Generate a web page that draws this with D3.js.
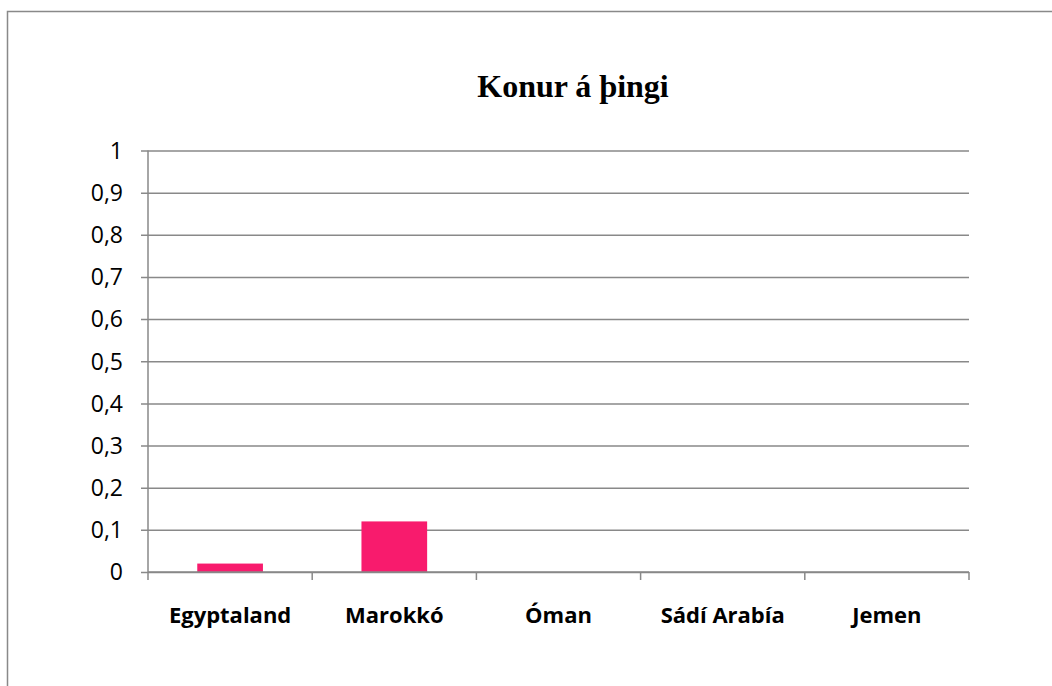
<!DOCTYPE html>
<html>
<head>
<meta charset="utf-8">
<script src="https://cdn.jsdelivr.net/npm/d3@7"></script>
<style>
  html, body { margin: 0; padding: 0; background: #fff; }
  svg { display: block; }
</style>
</head>
<body>
<svg id="chart" width="1052" height="686"></svg>
<script>
const title = "Konur á þingi";
const categories = ["Egyptaland", "Marokkó", "Óman", "Sádí Arabía", "Jemen"];
const values = [0.02, 0.12, 0, 0, 0];
const yTicks = [0, 0.1, 0.2, 0.3, 0.4, 0.5, 0.6, 0.7, 0.8, 0.9, 1];

const svg = d3.select("#chart");
const gridColor = "#898989";
const barColor = "#F81B6D";
const fmt = d => d3.format("")(d).replace(".", ",");

// outer chart border (extends past the viewport at right/bottom)
svg.append("rect")
  .attr("x", 7.5).attr("y", 11.5)
  .attr("width", 1200).attr("height", 800)
  .attr("fill", "none").attr("stroke", gridColor).attr("stroke-width", 1.5);

const x = d3.scaleBand().domain(categories).range([148, 969]).paddingInner(0.6).paddingOuter(0.3);
const y = d3.scaleLinear().domain([0, 1]).range([572, 150.5]);

// title
svg.append("text")
  .attr("x", 573).attr("y", 97)
  .attr("text-anchor", "middle")
  .attr("font-family", "'Liberation Serif', 'Times New Roman', serif")
  .attr("font-weight", "bold")
  .attr("font-size", 32)
  .attr("fill", "#000")
  .text(title);

// gridlines (with short outside tick) via d3.axisRight
const yAxis = d3.axisRight(y)
  .tickValues(yTicks)
  .tickSize(969 - 141)
  .tickFormat(() => "");
const gy = svg.append("g").attr("transform", "translate(141,0)").call(yAxis);
gy.select(".domain").remove();
gy.selectAll(".tick line").attr("stroke", gridColor).attr("stroke-width", 1.5);

// y labels
svg.append("g").selectAll("text").data(yTicks).join("text")
  .attr("x", 123)
  .attr("y", d => y(d))
  .attr("dy", "0.36em")
  .attr("text-anchor", "end")
  .attr("font-family", "'Open Sans', sans-serif")
  .attr("font-size", 23)
  .attr("fill", "#000")
  .text(fmt);

// y axis line
svg.append("line")
  .attr("x1", 148).attr("x2", 148).attr("y1", y(1)).attr("y2", y(0))
  .attr("stroke", gridColor).attr("stroke-width", 1.5);

// bars
svg.append("g").selectAll("rect").data(values).join("rect")
  .attr("x", (d, i) => x(categories[i]))
  .attr("width", x.bandwidth())
  .attr("y", d => y(d))
  .attr("height", d => y(0) - y(d))
  .attr("fill", barColor);

// x axis line and boundary ticks
svg.append("line")
  .attr("x1", 148).attr("x2", 969).attr("y1", y(0)).attr("y2", y(0))
  .attr("stroke", gridColor).attr("stroke-width", 1.5);
const bounds = d3.range(categories.length + 1).map(i => 148 + i * (969 - 148) / categories.length);
svg.append("g").selectAll("line").data(bounds).join("line")
  .attr("x1", d => d).attr("x2", d => d)
  .attr("y1", y(0)).attr("y2", y(0) + 8)
  .attr("stroke", gridColor).attr("stroke-width", 1.5);

// category labels
svg.append("g").selectAll("text").data(categories).join("text")
  .attr("x", d => x(d) + x.bandwidth() / 2)
  .attr("y", 623)
  .attr("text-anchor", "middle")
  .attr("font-family", "'Open Sans', sans-serif")
  .attr("font-weight", "bold")
  .attr("font-size", 22)
  .attr("fill", "#000")
  .text(d => d);
</script>
</body>
</html>
